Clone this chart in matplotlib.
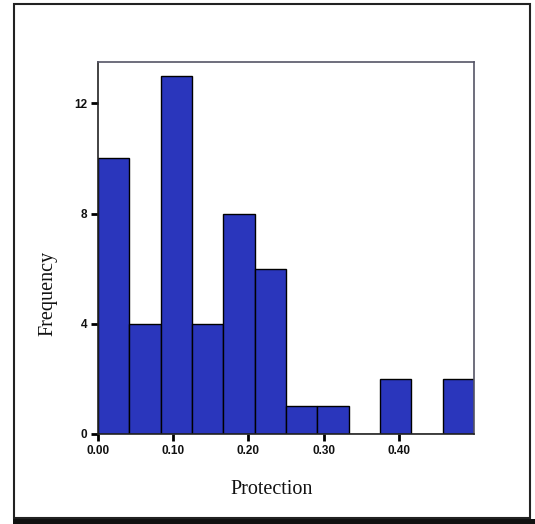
import matplotlib
matplotlib.use("Agg")
import matplotlib.pyplot as plt
from matplotlib.patches import Rectangle
import numpy as np

# Histogram of protection values: 12 equal bins over [0, 0.5]
bin_edges = np.linspace(0.0, 0.5, 13)
counts = [10, 4, 13, 4, 8, 6, 1, 1, 0, 2, 0, 2]
x_ticks = [0.0, 0.1, 0.2, 0.3, 0.4]
x_tick_labels = ["0.00", "0.10", "0.20", "0.30", "0.40"]
y_ticks = [0, 4, 8, 12]

bar_color = "#2a36bc"

fig = plt.figure(figsize=(5.35, 5.24), dpi=100)
fig.patch.set_facecolor("white")

# outer frame and bottom band
fig.patches.append(Rectangle((14 / 535, 1 - 518 / 524), (530 - 14) / 535, (518 - 4) / 524,
                             transform=fig.transFigure, fill=False,
                             edgecolor="#222222", linewidth=1.5))
fig.patches.append(Rectangle((13 / 535, 0), 1 - 13 / 535, 5 / 524,
                             transform=fig.transFigure, facecolor="#111111",
                             edgecolor="none"))

ax = fig.add_axes([98 / 535, 1 - 434 / 524, (474 - 98) / 535, (434 - 62) / 524])
ax.hist(bin_edges[:-1], bins=bin_edges, weights=counts,
        color=bar_color, edgecolor="black", linewidth=1.0)

ax.set_xlim(0.0, 0.5)
ax.set_ylim(0, 13.5)
ax.set_xticks(x_ticks)
ax.set_xticklabels(x_tick_labels)
ax.set_yticks(y_ticks)

for lbl in ax.get_xticklabels() + ax.get_yticklabels():
    lbl.set_fontfamily("Liberation Sans")
    lbl.set_fontweight("bold")
    lbl.set_fontsize(8.5)
    lbl.set_color("#111111")

ax.tick_params(axis="both", direction="out", length=5, width=2.0, color="black")
ax.tick_params(axis="x", pad=3)
ax.tick_params(axis="y", pad=3)

for side in ["top", "right"]:
    ax.spines[side].set_color("#555566")
    ax.spines[side].set_linewidth(1.2)
for side in ["left", "bottom"]:
    ax.spines[side].set_color("#222222")
    ax.spines[side].set_linewidth(1.2)

fig.text(48 / 535, 1 - 293 / 524, "Frequency", rotation=90, ha="center", va="center",
         family="Liberation Serif", fontsize=14.5, color="#111111")
fig.text(272 / 535, 1 - 490 / 524, "Protection", ha="center", va="center",
         family="Liberation Serif", fontsize=14.5, color="#111111")

fig.savefig("out.png", dpi=100, facecolor="white")
